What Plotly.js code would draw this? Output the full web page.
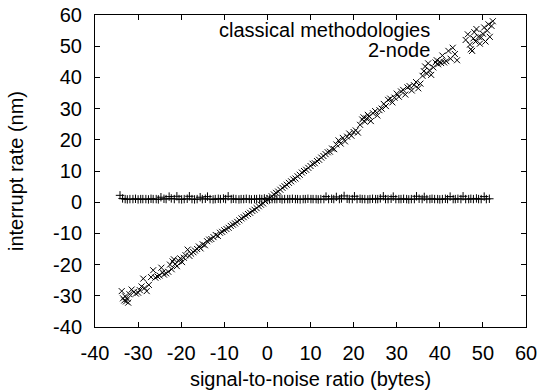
<!DOCTYPE html>
<html>
<head>
<meta charset="utf-8">
<script src="https://cdn.plot.ly/plotly-3.0.1.min.js"></script>
<style>html,body{margin:0;padding:0;background:#fff}#plot{width:551px;height:392px}</style>
</head>
<body>
<div id="plot"></div>
<script>
// Series names
const seriesNames = ["classical methodologies", "2-node"];

// classical methodologies (+ markers)
const classicalX = [
 -34.2, -33.6, -33.0, -32.5, -31.9, -31.2, -30.6, -30.0, -29.4, -28.9,
 -28.2, -27.6, -27.0, -26.5, -25.8, -25.3, -24.7, -24.0, -23.5, -22.8,
 -22.3, -21.6, -21.0, -20.5, -19.9, -19.3, -18.6, -18.1, -17.5, -16.9,
 -16.3, -15.6, -15.1, -14.4, -13.9, -13.3, -12.6, -12.1, -11.4, -10.9,
 -10.2, -9.7, -9.1, -8.4, -7.9, -7.3, -6.6, -6.1, -5.5, -4.9,
 -4.2, -3.7, -3.0, -2.5, -1.8, -1.3, -0.7, -0.1, 0.5, 1.1,
 1.7, 2.2, 2.9, 3.4, 4.0, 4.7, 5.2, 5.8, 6.5, 7.0,
 7.6, 8.3, 8.8, 9.4, 10.1, 10.6, 11.3, 11.8, 12.4, 13.1,
 13.6, 14.2, 14.9, 15.4, 16.0, 16.7, 17.2, 17.8, 18.5, 19.0,
 19.7, 20.2, 20.8, 21.5, 22.0, 22.6, 23.3, 23.8, 24.4, 25.1,
 25.6, 26.2, 26.9, 27.4, 28.0, 28.7, 29.2, 29.8, 30.5, 31.0,
 31.6, 32.3, 32.8, 33.4, 34.1, 34.6, 35.2, 35.9, 36.4, 37.0,
 37.7, 38.2, 38.8, 39.5, 40.0, 40.6, 41.3, 41.8, 42.4, 43.1,
 43.6, 44.2, 44.9, 45.4, 46.0, 46.7, 47.2, 47.8, 48.5, 49.0,
 49.6, 50.3, 50.8, 51.5
];
const classicalY = [
 2.2, 1.2, 1.0, 0.9, 1.0, 1.0, 1.1, 0.9, 1.0, 1.0,
 1.0, 0.9, 1.1, 1.0, 1.0, 0.9, 1.6, 1.1, 1.0, 1.8,
 1.2, 1.0, 1.9, 1.0, 0.9, 1.0, 1.1, 1.9, 1.0, 0.9,
 1.0, 1.6, 1.0, 1.1, 1.8, 1.0, 0.9, 1.0, 1.1, 1.0,
 1.2, 1.0, 1.9, 1.0, 1.1, 1.0, 0.9, 1.0, 1.0, 1.1,
 1.0, 0.9, 1.0, 1.0, 1.1, 1.0, 1.2, 1.0, 0.9, 1.0,
 1.0, 1.0, 1.1, 0.9, 1.0, 1.0, 1.0, 1.1, 1.0, 1.0,
 0.9, 1.0, 1.0, 1.1, 1.0, 1.0, 1.0, 0.9, 1.0, 1.0,
 1.8, 1.0, 1.1, 1.0, 1.7, 1.0, 1.2, 2.0, 1.1, 1.0,
 1.0, 1.9, 1.0, 1.1, 1.0, 1.0, 0.9, 1.0, 1.1, 1.0,
 1.0, 1.2, 1.9, 1.0, 1.0, 1.1, 1.8, 1.0, 1.0, 1.0,
 1.1, 1.0, 0.9, 1.0, 1.0, 1.9, 1.1, 1.0, 1.7, 1.0,
 1.0, 1.1, 1.0, 1.0, 0.9, 1.0, 1.1, 1.0, 1.8, 1.0,
 1.0, 1.1, 1.0, 1.9, 1.0, 1.0, 1.1, 1.0, 1.2, 1.0,
 1.0, 1.8, 1.0, 1.1
];

// 2-node (x markers)
const nodeX = [
 -33.8, -33.5, -33.2, -33.0, -32.8, -32.5, -32.3, -32.0, -31.5, -31.0,
 -30.5, -30.0, -29.6, -29.2, -28.8, -28.5, -28.0, -27.5, -27.0, -26.5,
 -26.0, -25.5, -25.0, -24.6, -24.3, -24.0, -23.5, -23.0, -22.6, -22.2,
 -22.0, -21.7, -21.4, -21.0, -20.6, -20.2, -19.8, -19.4, -19.0, -18.5,
 -18.1, -17.7, -17.2, -16.8, -16.3, -15.9, -15.5, -15.0, -14.5, -14.0,
 -13.5, -13.0, -12.5, -12.0, -11.5, -11.0, -10.5, -10.0, -9.5, -9.0,
 -8.5, -8.0, -7.5, -7.0, -6.5, -6.0, -5.5, -5.0, -4.5, -4.0,
 -3.5, -3.0, -2.5, -2.0, -1.5, -1.0, -0.5, 0.0, 0.5, 1.0,
 1.5, 2.0, 2.5, 3.0, 3.5, 4.0, 4.5, 5.0, 5.5, 6.0,
 6.5, 7.0, 7.5, 8.0, 8.5, 9.0, 9.5, 10.0, 10.5, 11.0,
 11.5, 12.0, 12.5, 13.0, 13.5, 14.0, 14.5, 15.0, 15.5, 16.0,
 16.5, 17.0, 17.5, 18.0, 18.5, 19.0, 19.5, 20.0, 20.5, 21.0,
 21.5, 22.0, 22.3, 22.6, 23.0, 23.3, 23.6, 24.0, 24.5, 25.0,
 25.5, 26.0, 26.5, 27.0, 27.5, 28.0, 28.5, 29.0, 29.5, 30.0,
 30.5, 31.0, 31.5, 32.0, 32.5, 33.0, 33.5, 34.0, 34.5, 35.0,
 35.5, 36.0, 36.3, 36.6, 37.0, 37.3, 37.6, 38.0, 38.5, 39.0,
 39.3, 39.6, 40.0, 40.3, 40.6, 41.0, 41.5, 42.0, 42.5, 43.0,
 43.5, 44.0, 46.0, 46.5, 47.0, 47.2, 47.5, 47.8, 48.0, 48.3,
 48.5, 49.0, 49.3, 49.6, 50.0, 50.3, 50.6, 51.0, 51.3, 51.6,
 52.0, 52.3
];
const nodeY = [
 -28.5, -30.8, -31.5, -30.2, -31.8, -31.0, -32.2, -29.5, -28.0, -28.8,
 -29.3, -29.0, -28.2, -27.0, -24.5, -27.5, -28.5, -26.5, -24.0, -21.8,
 -24.2, -23.8, -23.5, -21.0, -22.5, -23.2, -22.8, -22.3, -20.0, -21.5,
 -19.0, -18.3, -19.8, -20.5, -18.8, -18.0, -19.2, -17.8, -17.0, -15.2,
 -17.2, -16.5, -16.0, -15.5, -15.0, -14.2, -14.8, -13.5, -13.8, -12.5,
 -12.0, -11.8, -11.2, -10.5, -10.8, -9.8, -9.5, -9.0, -8.6, -8.2,
 -7.6, -7.2, -6.8, -6.3, -5.8, -5.2, -4.8, -4.3, -3.8, -3.4,
 -2.8, -2.4, -1.9, -1.3, -0.8, -0.4, 0.3, 0.8, 1.3, 1.9,
 2.5, 3.0, 3.4, 4.0, 4.6, 5.1, 5.6, 6.2, 6.7, 7.3,
 7.6, 8.3, 8.8, 9.5, 10.0, 10.4, 11.0, 11.6, 12.3, 12.5,
 13.2, 13.6, 14.3, 14.8, 15.4, 16.0, 16.2, 17.2, 17.0, 18.5,
 19.8, 18.8, 20.6, 19.5, 21.0, 22.0, 21.3, 22.5, 23.0, 22.3,
 24.8, 26.5, 27.2, 25.8, 26.8, 28.0, 27.5, 26.0, 28.5, 29.2,
 27.8, 29.5, 30.0, 31.5, 30.8, 32.8, 33.2, 32.0, 33.5, 34.8,
 33.8, 35.5, 36.0, 34.5, 36.8, 37.2, 35.8, 37.5, 38.5, 36.5,
 38.0, 40.5, 42.0, 43.5, 41.2, 44.5, 42.3, 40.8, 43.2, 44.8,
 45.5, 44.2, 45.0, 44.6, 47.0, 44.8, 45.2, 48.5, 46.0, 49.5,
 47.5, 45.5, 52.0, 53.8, 50.5, 49.0, 48.5, 52.5, 54.5, 51.5,
 55.5, 53.0, 50.8, 52.8, 54.0, 56.0, 51.5, 55.0, 57.0, 53.0,
 56.5, 58.0
];

// Tick values and labels (labels use a plain hyphen, as in the reference)
const tickVals = [-40, -30, -20, -10, 0, 10, 20, 30, 40, 50, 60];
const tickText = ["-40", "-30", "-20", "-10", "0", "10", "20", "30", "40", "50", "60"];

const font = {family: "Liberation Sans, Arial, sans-serif", size: 20, color: "#000"};

const traces = [
  {x: classicalX, y: classicalY, name: seriesNames[0], type: "scatter", mode: "markers",
   marker: {symbol: "cross-thin", size: 6, line: {width: 1, color: "#000"}, color: "#000"}},
  {x: nodeX, y: nodeY, name: seriesNames[1], type: "scatter", mode: "markers",
   marker: {symbol: "x-thin", size: 6, line: {width: 1, color: "#000"}, color: "#000"}}
];

const axisCommon = {
  showgrid: false, zeroline: false, showline: true, linecolor: "#000", linewidth: 1,
  mirror: "allticks", ticks: "inside", ticklen: 5, tickwidth: 1, tickcolor: "#000",
  tickfont: font, ticklabelstandoff: 8, tickmode: "array", tickvals: tickVals, ticktext: tickText
};

const layout = {
  width: 551, height: 392,
  margin: {l: 95, r: 25, t: 15, b: 65},
  paper_bgcolor: "#fff", plot_bgcolor: "#fff",
  font: font,
  showlegend: false,
  xaxis: Object.assign({}, axisCommon, {range: [-40, 60],
    title: {text: "signal-to-noise ratio (bytes)", font: font, standoff: 8}}),
  yaxis: Object.assign({}, axisCommon, {range: [-40, 60],
    title: {text: "interrupt rate (nm)", font: font, standoff: 24}}),
  annotations: [
    {xref: "paper", yref: "paper", x: 0.782, y: 0.952, xanchor: "right", yanchor: "middle",
     text: seriesNames[0], showarrow: false, font: font},
    {xref: "paper", yref: "paper", x: 0.782, y: 0.889, xanchor: "right", yanchor: "middle",
     text: seriesNames[1], showarrow: false, font: font}
  ]
};

Plotly.newPlot("plot", traces, layout, {staticPlot: true, displayModeBar: false});
</script>
</body>
</html>
